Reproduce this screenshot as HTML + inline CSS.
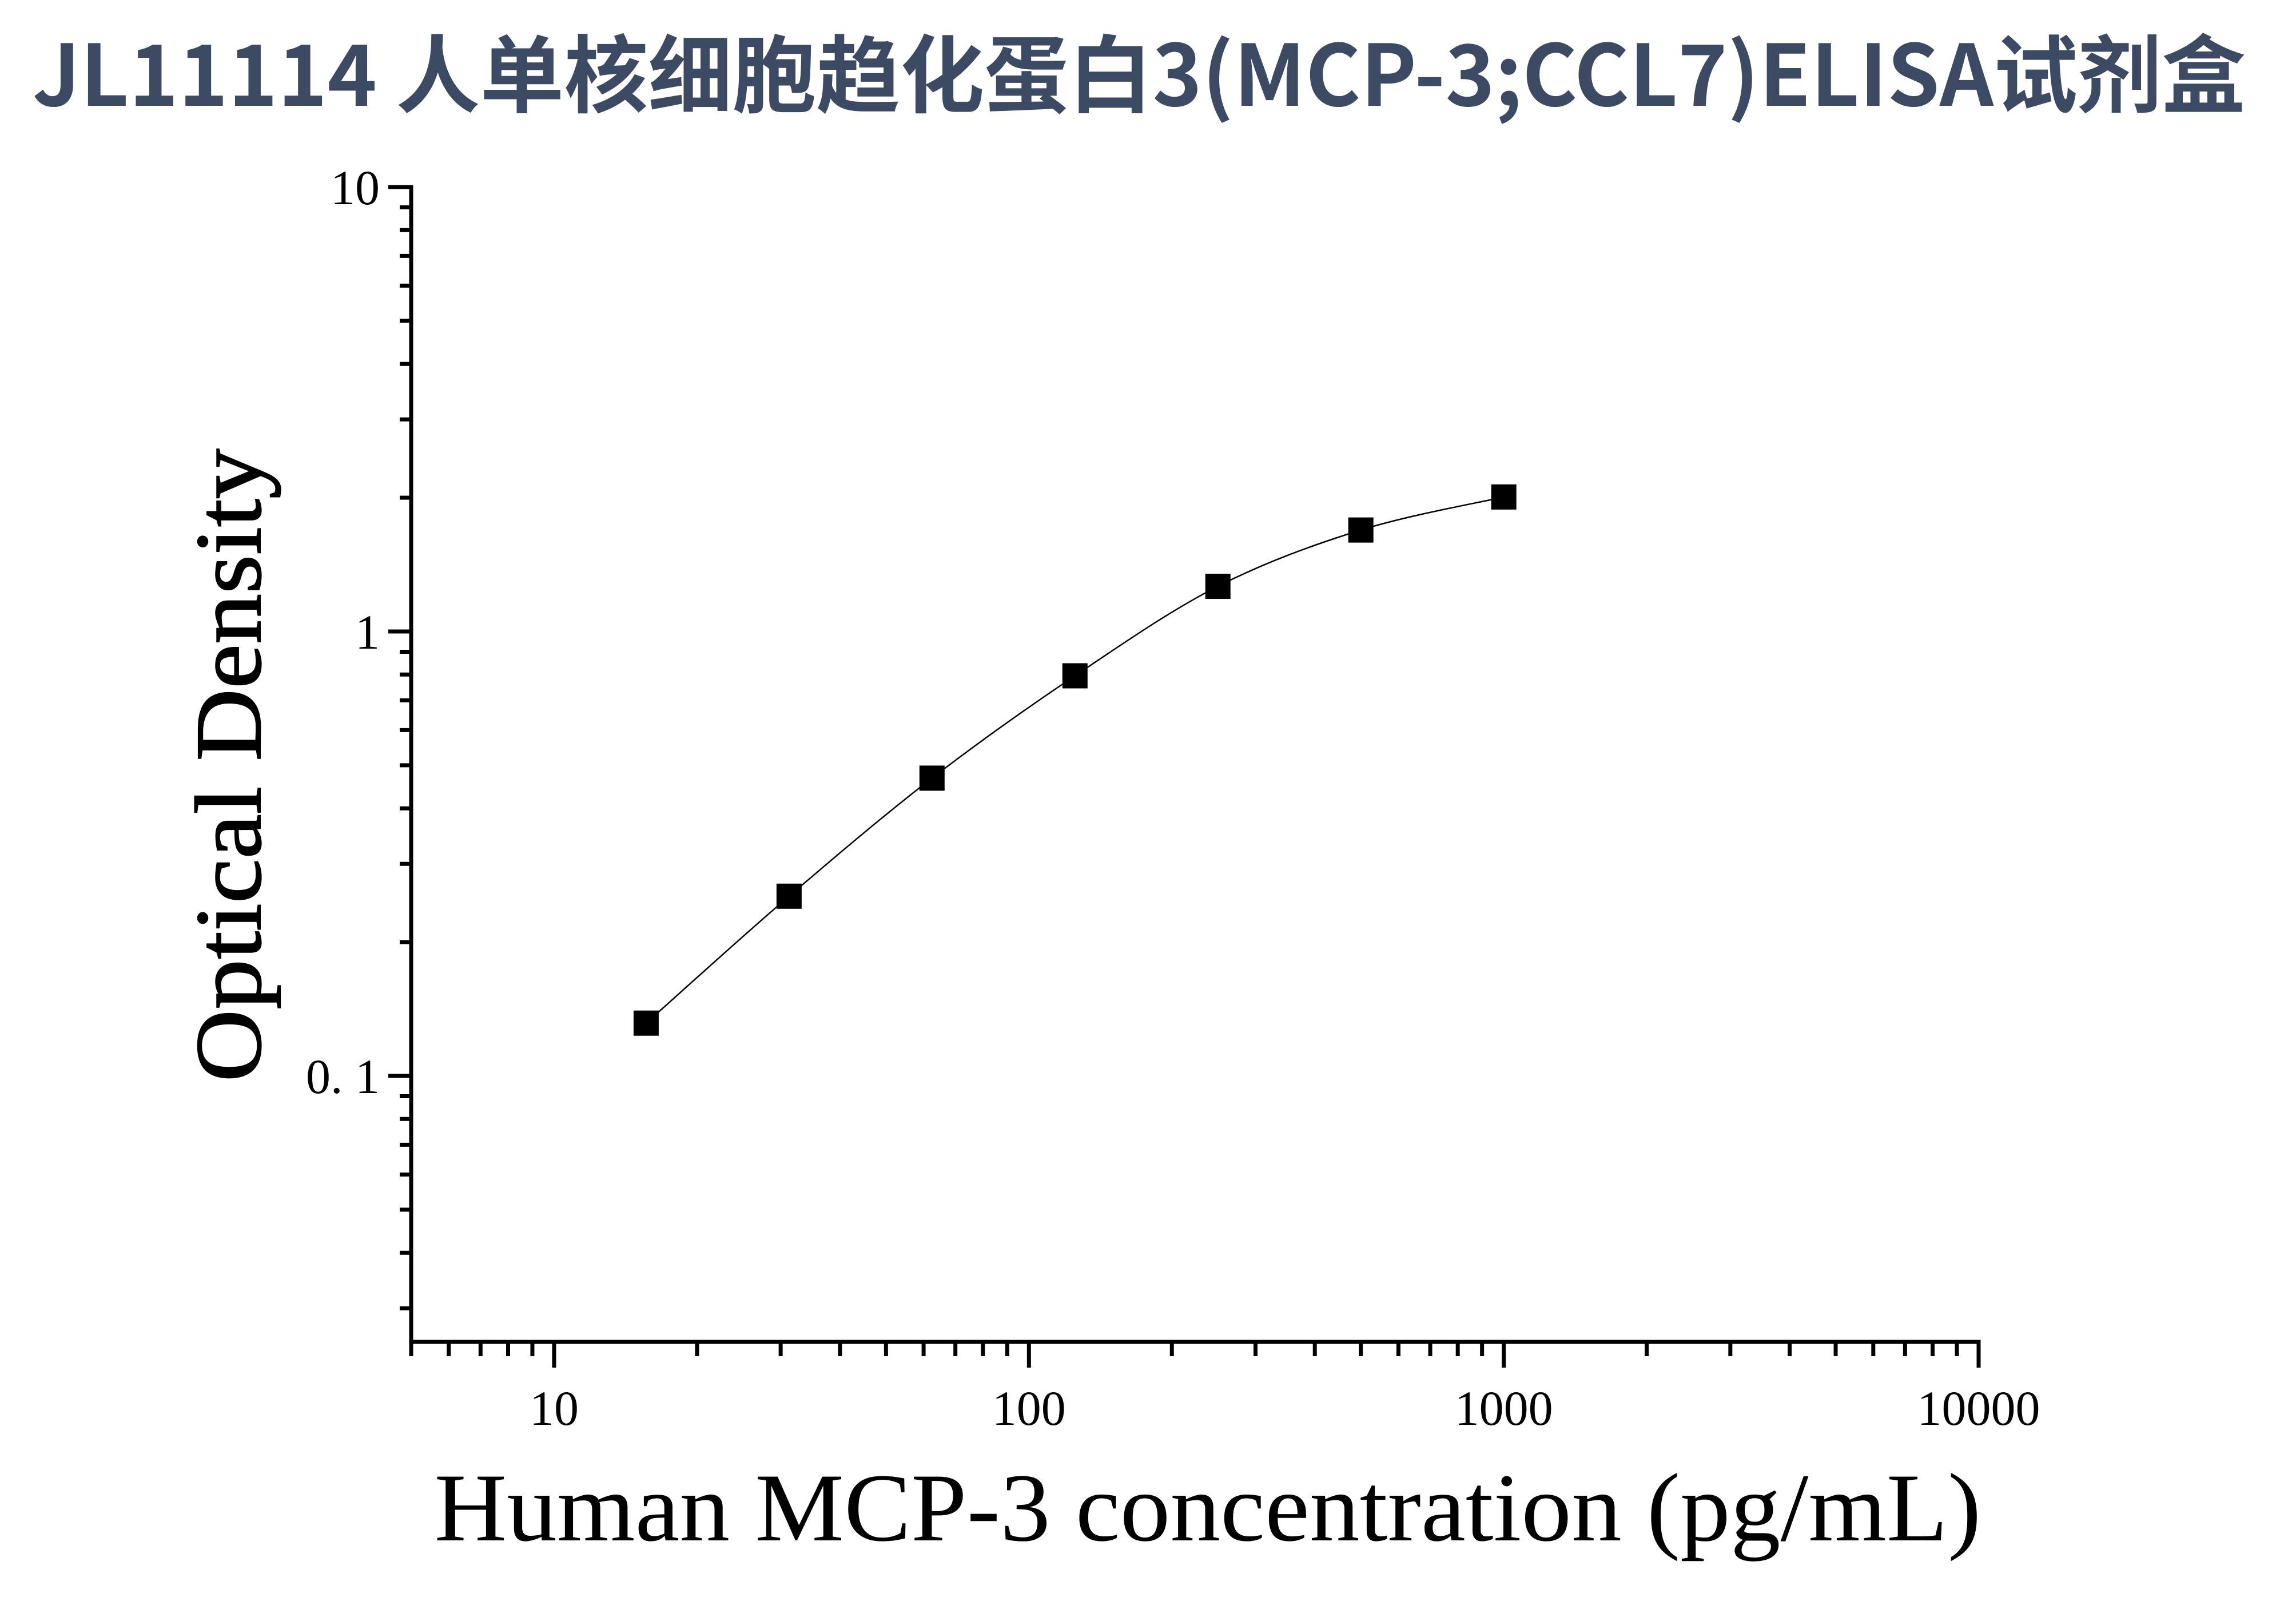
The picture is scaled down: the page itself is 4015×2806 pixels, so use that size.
<!DOCTYPE html>
<html><head><meta charset="utf-8"><style>
html,body{margin:0;padding:0;background:#fff;}
svg{display:block;}
</style></head><body>
<svg id="s" width="4015" height="2806" viewBox="0 0 4015 2806" xmlns="http://www.w3.org/2000/svg">
<rect width="4015" height="2806" fill="#fff"/>
<text x="57" y="185" font-family="'Noto Sans CJK SC','Liberation Sans',sans-serif" font-weight="bold" font-size="148" fill="#3d4a63" textLength="3870" lengthAdjust="spacingAndGlyphs">JL11114 人单核细胞趋化蛋白3(MCP-3;CCL7)ELISA试剂盒</text>
<g id="ax" stroke="#000" stroke-width="7" fill="none"></g>
<g id="lbl" font-family="'Liberation Serif',serif" font-size="86" fill="#000"></g>
<text x="2112" y="2693" text-anchor="middle" font-family="'Liberation Serif',serif" font-size="170" fill="#000" textLength="2705" lengthAdjust="spacingAndGlyphs">Human MCP-3 concentration (pg/mL)</text>
<text transform="translate(455,1338) rotate(-90)" text-anchor="middle" font-family="'Liberation Serif',serif" font-size="165" fill="#000" stroke="#000" stroke-width="2" textLength="1107" lengthAdjust="spacingAndGlyphs">Optical Density</text>
<path id="curve" stroke="#000" stroke-width="2.5" fill="none"/>
<g id="pts" fill="#000"></g>
</svg>
<script>
var NS="http://www.w3.org/2000/svg";
var X0=719,XR=3460,DEC=(3460-719)/Math.log10(2000),YT=327,D=777,YB=2346;
function X(v){return X0+(Math.log10(v)-Math.log10(5))*DEC;}
function Y(v){return YT+(1-Math.log10(v))*D;}
var ax=document.getElementById('ax'),lbl=document.getElementById('lbl');
function line(x1,y1,x2,y2){var l=document.createElementNS(NS,'line');l.setAttribute('x1',x1);l.setAttribute('y1',y1);l.setAttribute('x2',x2);l.setAttribute('y2',y2);ax.appendChild(l);}
function txt(x,y,s,anchor){var t=document.createElementNS(NS,'text');t.setAttribute('x',x);t.setAttribute('y',y);t.setAttribute('text-anchor',anchor);t.textContent=s;lbl.appendChild(t);}
ax.innerHTML='<path d="M'+X0+' '+YT+' V'+YB+' H'+XR+'" stroke-linejoin="miter" stroke-linecap="square"/>';
var ymaj=[[10,'10'],[1,'1'],[0.1,'0. 1']];
ymaj.forEach(function(m){var y=Y(m[0]);line(X0,y,X0-40,y);txt(X0-55,y+30,m[1],'end');});
[1,0.1].forEach(function(b){for(var k=2;k<=9;k++){var y=Y(b*k);line(X0,y,X0-20,y);}});
for(var k=3;k<=9;k++){var y=Y(0.01*k);if(y<YB)line(X0,y,X0-20,y);}
[[10,'10'],[100,'100'],[1000,'1000'],[10000,'10000']].forEach(function(m){var x=X(m[0]);line(x,YB,x,YB+45);txt(x,YB+145,m[1],'middle');});
for(var k=5;k<=9;k++){line(X(k),YB,X(k),YB+25);}
[10,100,1000].forEach(function(b){for(var k=2;k<=9;k++){var x=X(b*k);line(x,YB,x,YB+25);}});
var f=1.019;
var d=[[15.625,0.129],[31.25,0.249],[62.5,0.459],[125,0.78],[250,1.24],[500,1.66],[1000,1.97]];
var P=d.map(function(p){return [X(p[0]),Y(p[1]*f)];});
var s='M'+P[0][0]+' '+P[0][1];
for(var i=0;i<P.length-1;i++){var p0=P[Math.max(0,i-1)],p1=P[i],p2=P[i+1],p3=P[Math.min(P.length-1,i+2)];
var c1=[p1[0]+(p2[0]-p0[0])/6,p1[1]+(p2[1]-p0[1])/6],c2=[p2[0]-(p3[0]-p1[0])/6,p2[1]-(p3[1]-p1[1])/6];
s+=' C'+c1[0]+' '+c1[1]+' '+c2[0]+' '+c2[1]+' '+p2[0]+' '+p2[1];}
document.getElementById('curve').setAttribute('d',s);
var g=document.getElementById('pts');
P.forEach(function(p){var r=document.createElementNS(NS,'rect');r.setAttribute('x',p[0]-22);r.setAttribute('y',p[1]-22);r.setAttribute('width',44);r.setAttribute('height',44);g.appendChild(r);});
</script>
</body></html>
